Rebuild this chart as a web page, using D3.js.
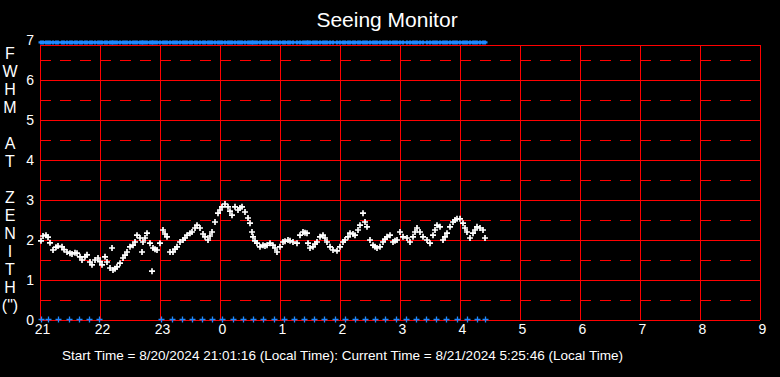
<!DOCTYPE html>
<html>
<head>
<meta charset="utf-8">
<script src="https://cdn.jsdelivr.net/npm/d3@7"></script>
<style>
body { margin: 0; background: #000; }
text { font-family: "Liberation Sans", Arial, sans-serif; fill: #fff; }
</style>
</head>
<body>
<div id="chart"></div>
<script>
var width = 780;
var height = 377;

// minutes after 21:00 and the FWHM read at that time
var sampleMinutes = [1,3,6,8,10,13,16,18,22,24,27,30,32,35,37,40,42,45,47,50,
  52,55,58,60,62,65,67,70,72,73,75,77,80,83,85,87,90,93,95,97,
  100,102,103,105,107,110,112,113,115,117,120,123,125,127,130,133,135,137,140,143,
  145,147,150,152,155,157,160,163,165,168,170,172,175,178,180,182,185,188,190,192,
  195,198,200,202,205,208,210,212,213,215,217,220,223,225,227,230,233,235,237,240,
  243,245,248,250,253,257,260,263,265,267,268,270,273,275,277,280,283,285,287,290,
  293,297,300,303,305,308,310,313,315,318,320,323,325,327,330,333,335,337,340,343,
  345,347,350,353,355,357,360,363,367,370,373,375,377,380,383,387,390,393,395,397,
  400,403,405,407,410,413,415,417,420,423,425,427,430,433,435,437,440,443,445];
var fwhm = [1.98,2.10,2.12,2.07,1.93,1.75,1.82,1.85,1.83,1.76,1.70,1.67,1.65,1.68,1.67,1.58,1.50,1.58,1.63,1.45,
  1.38,1.50,1.55,1.46,1.38,1.58,1.45,1.30,1.80,1.25,1.28,1.33,1.42,1.55,1.62,1.70,1.83,1.87,1.95,2.12,
  2.05,1.70,1.95,2.05,2.17,1.92,1.22,1.80,1.77,1.75,1.92,2.25,2.15,2.08,1.70,1.70,1.77,1.83,1.95,2.00,
  2.05,2.12,2.17,2.20,2.30,2.37,2.30,2.15,2.08,2.00,2.10,2.20,2.45,2.67,2.75,2.83,2.90,2.83,2.72,2.62,
  2.83,2.75,2.80,2.83,2.70,2.55,2.42,2.20,2.08,1.98,1.92,1.83,1.87,1.85,1.87,1.92,1.87,1.80,1.70,1.83,
  1.95,1.97,2.00,1.98,1.95,1.92,2.12,2.20,2.18,2.17,1.92,1.80,1.83,1.90,1.95,2.08,2.12,2.05,1.95,1.83,
  1.75,1.73,1.83,1.95,2.00,2.08,2.17,2.15,2.12,2.25,2.37,2.67,2.45,2.33,2.00,1.87,1.83,1.80,1.83,1.95,
  2.02,2.08,2.12,1.95,1.98,2.00,2.20,2.08,2.05,1.95,2.08,2.20,2.30,2.20,2.08,2.00,1.92,2.12,2.25,2.37,
  2.33,2.00,2.08,2.17,2.33,2.45,2.50,2.53,2.53,2.42,2.30,2.20,2.05,2.17,2.25,2.33,2.30,2.25,2.05];

// blue markers along the bottom (minutes after 21:00)
var lowMarkerMinutes = [1,8,18,29,39,49,59,121,132,142,152,162,172,182,193,203,213,223,234,244,254,264,274,284,295,305,315,325,335,345,356,366,376,386,396,406,417,427,437,445];

var hourTicks = [21,22,23,24,25,26,27,28,29,30,31,32,33];
var fwhmTicks = [0,1,2,3,4,5,6,7];
var halfTicks = [0.5,1.5,2.5,3.5,4.5,5.5,6.5];
var yTitle = ["F","W","H","M","","A","T","","Z","E","N","I","T","H","(\")"];
var flagLevel = 6.94;
var frameTop = 6.875;

var title = "Seeing Monitor";
var footer = "Start Time = 8/20/2024 21:01:16 (Local Time): Current Time = 8/21/2024 5:25:46 (Local Time)";

var plotL = 40, plotR = 760, plotT = 40, plotB = 320;

var xScale = d3.scaleLinear().domain([21, 33]).range([plotL, plotR]);
var yScale = d3.scaleLinear().domain([0, 7]).range([plotB, plotT]);

var svg = d3.select("#chart").append("svg")
    .attr("width", width).attr("height", height);

svg.append("rect").attr("width", width).attr("height", height).attr("fill", "#000");

var yTop = yScale(frameTop);

// dashed half-unit lines
svg.selectAll(".half").data(halfTicks).enter().append("line")
   .attr("x1", plotL).attr("x2", plotR)
   .attr("y1", function(d){ return yScale(d) + 0.5; })
   .attr("y2", function(d){ return yScale(d) + 0.5; })
   .attr("stroke", "#ff0000").attr("stroke-width", 1)
   .attr("stroke-dasharray", "11,9");

// solid lines
svg.selectAll(".hline").data(fwhmTicks.filter(function(d){ return d < 7; })).enter().append("line")
   .attr("x1", plotL).attr("x2", plotR)
   .attr("y1", function(d){ return yScale(d) + 0.5; })
   .attr("y2", function(d){ return yScale(d) + 0.5; })
   .attr("stroke", "#ff0000").attr("stroke-width", 1);

svg.selectAll(".vline").data(hourTicks).enter().append("line")
   .attr("x1", function(d){ return xScale(d) + 0.5; })
   .attr("x2", function(d){ return xScale(d) + 0.5; })
   .attr("y1", yTop).attr("y2", plotB)
   .attr("stroke", "#ff0000").attr("stroke-width", 1);

svg.append("line")
   .attr("x1", plotL).attr("x2", plotR + 1)
   .attr("y1", yTop + 0.5).attr("y2", yTop + 0.5)
   .attr("stroke", "#ff0000").attr("stroke-width", 1);

// axes labels
var xAxis = d3.axisBottom(xScale).tickValues(hourTicks)
    .tickSize(0).tickPadding(4)
    .tickFormat(function(d){ return d % 24; });
var gx = svg.append("g").attr("transform", "translate(0," + plotB + ")").call(xAxis);
gx.select(".domain").remove();
gx.selectAll("text").attr("font-size", 14).attr("dx", 2)
  .attr("font-family", "Liberation Sans, Arial, sans-serif").attr("fill", "#fff");

var yAxis = d3.axisLeft(yScale).tickValues(fwhmTicks).tickSize(0).tickPadding(6)
    .tickFormat(d3.format("d"));
var gy = svg.append("g").attr("transform", "translate(" + plotL + ",0)").call(yAxis);
gy.select(".domain").remove();
gy.selectAll("text").attr("font-size", 14).attr("font-family", "Liberation Sans, Arial, sans-serif").attr("fill", "#fff");

svg.selectAll(".ytitle").data(yTitle).enter().append("text")
   .attr("x", 10).attr("y", function(d, i){ return 59 + i * 18; })
   .attr("text-anchor", "middle").attr("font-size", 16)
   .text(function(d){ return d; });

svg.append("text").attr("x", 387).attr("y", 27)
   .attr("text-anchor", "middle").attr("font-size", 21).text(title);

svg.append("text").attr("x", 62).attr("y", 360)
   .attr("font-size", 13).attr("textLength", 561).attr("lengthAdjust", "spacingAndGlyphs")
   .text(footer);

function hrs(m){ return 21 + m / 60; }

function plus(sel, arm, armY){
  sel.attr("d", "M" + (-arm) + ",0H" + arm + "M0," + (-armY) + "V" + armY);
}

var samples = sampleMinutes.map(function(m, i){ return {m: m, v: fwhm[i]}; });

// top flag markers, one per sample
svg.selectAll(".flag").data(samples).enter().append("path")
   .call(plus, 2.5, 2)
   .attr("transform", function(d){ return "translate(" + xScale(hrs(d.m)) + "," + yScale(flagLevel) + ")"; })
   .attr("stroke", "#1e88ff").attr("stroke-width", 2.2);

svg.selectAll(".low").data(lowMarkerMinutes).enter().append("path")
   .call(plus, 3, 3)
   .attr("transform", function(d){ return "translate(" + (xScale(hrs(d)) + 0.5) + "," + (yScale(0) - 0.5) + ")"; })
   .attr("stroke", "#1e88ff").attr("stroke-width", 1.3);

svg.selectAll(".pt").data(samples).enter().append("path")
   .call(plus, 3, 3)
   .attr("transform", function(d){ return "translate(" + xScale(hrs(d.m)) + "," + yScale(d.v) + ")"; })
   .attr("stroke", "#fff").attr("stroke-width", 1.7);
</script>
</body>
</html>
